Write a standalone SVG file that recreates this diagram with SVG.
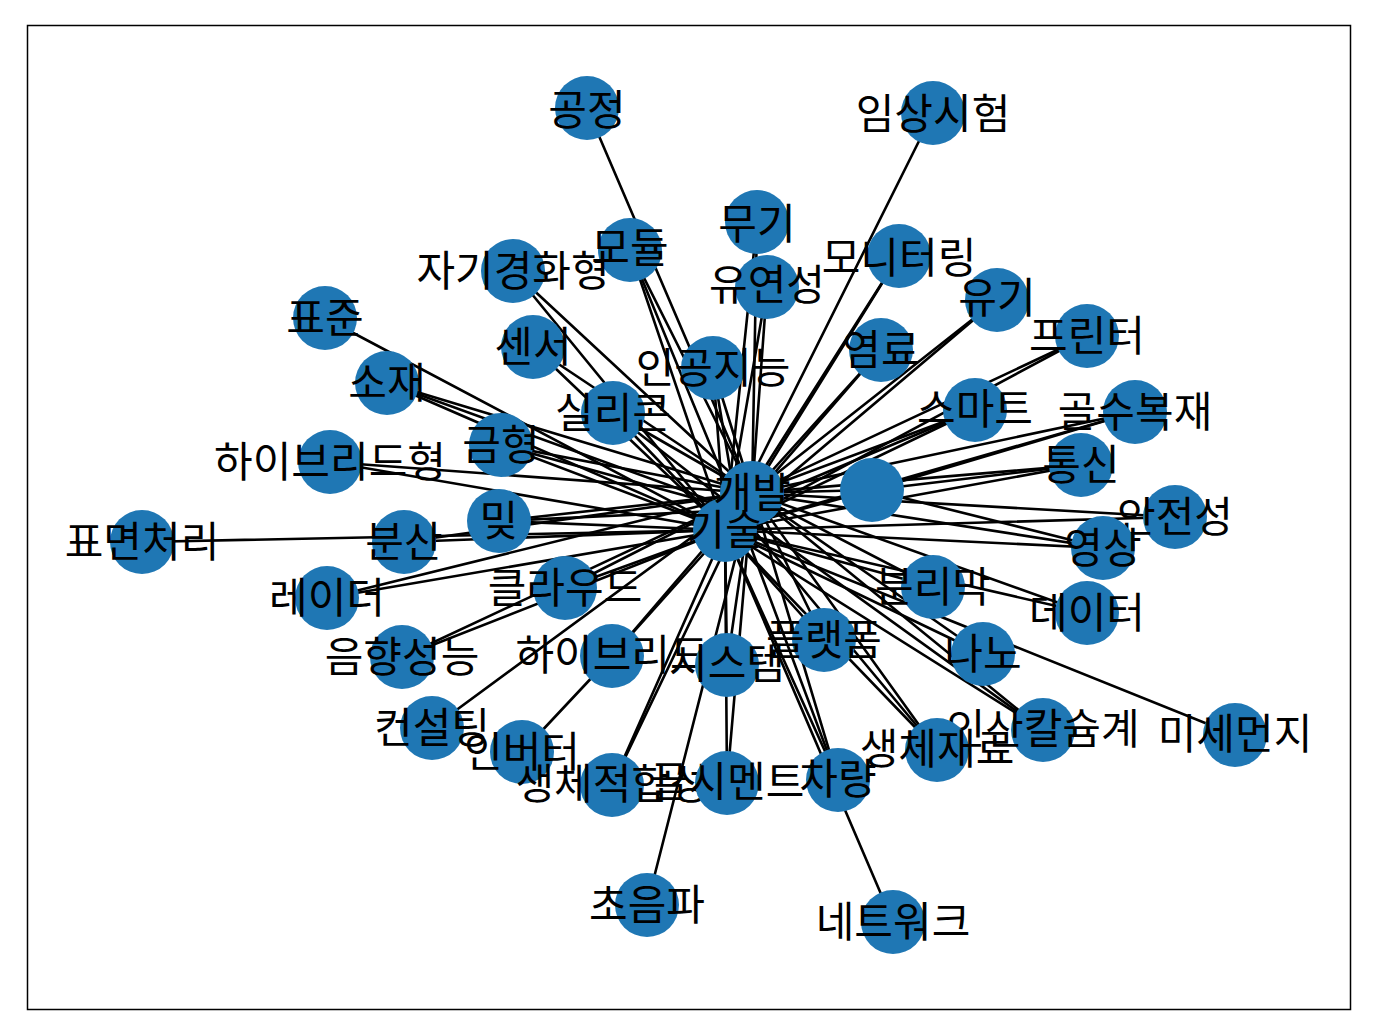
<svg xmlns="http://www.w3.org/2000/svg" width="1374" height="1036" viewBox="0 0 1374 1036">
<style>
.e line{stroke:#000;stroke-width:2.6;stroke-linecap:round}
.n circle{fill:#1f77b4}
.n text{font-family:"Noto Sans CJK KR","Noto Sans",sans-serif;font-size:42px;fill:#000;text-anchor:middle;dominant-baseline:central}
</style>
<rect x="0" y="0" width="1374" height="1036" fill="#fff"/>
<rect x="27.5" y="25.5" width="1323" height="984" fill="none" stroke="#000" stroke-width="1.5"/>
<g id="connectors" class="e">
<line x1="587" y1="108" x2="752" y2="493"/>
<line x1="933" y1="113" x2="725" y2="530"/>
<line x1="757" y1="222" x2="752" y2="493"/>
<line x1="757" y1="222" x2="725" y2="530"/>
<line x1="767" y1="287" x2="752" y2="493"/>
<line x1="767" y1="287" x2="725" y2="530"/>
<line x1="899" y1="256" x2="752" y2="493"/>
<line x1="899" y1="256" x2="725" y2="530"/>
<line x1="997" y1="300" x2="752" y2="493"/>
<line x1="997" y1="300" x2="725" y2="530"/>
<line x1="881" y1="350" x2="752" y2="493"/>
<line x1="881" y1="350" x2="725" y2="530"/>
<line x1="1087" y1="336" x2="752" y2="493"/>
<line x1="1087" y1="336" x2="725" y2="530"/>
<line x1="975" y1="410" x2="752" y2="493"/>
<line x1="975" y1="410" x2="725" y2="530"/>
<line x1="975" y1="410" x2="737" y2="510"/>
<line x1="1135" y1="412" x2="752" y2="493"/>
<line x1="1135" y1="412" x2="725" y2="530"/>
<line x1="1135" y1="412" x2="872" y2="490"/>
<line x1="1081" y1="465" x2="752" y2="493"/>
<line x1="1081" y1="465" x2="725" y2="530"/>
<line x1="1081" y1="465" x2="872" y2="490"/>
<line x1="1175" y1="517" x2="752" y2="493"/>
<line x1="1175" y1="517" x2="725" y2="530"/>
<line x1="1103" y1="548" x2="752" y2="493"/>
<line x1="1103" y1="548" x2="725" y2="530"/>
<line x1="1103" y1="548" x2="872" y2="490"/>
<line x1="1087" y1="613" x2="752" y2="493"/>
<line x1="1087" y1="613" x2="725" y2="530"/>
<line x1="933" y1="587" x2="752" y2="493"/>
<line x1="933" y1="587" x2="725" y2="530"/>
<line x1="983" y1="654" x2="752" y2="493"/>
<line x1="983" y1="654" x2="725" y2="530"/>
<line x1="1043" y1="730" x2="752" y2="493"/>
<line x1="1043" y1="730" x2="725" y2="530"/>
<line x1="1043" y1="730" x2="737" y2="510"/>
<line x1="1235" y1="735" x2="725" y2="530"/>
<line x1="937" y1="750" x2="752" y2="493"/>
<line x1="937" y1="750" x2="725" y2="530"/>
<line x1="937" y1="750" x2="737" y2="510"/>
<line x1="893" y1="922" x2="725" y2="530"/>
<line x1="838" y1="780" x2="752" y2="493"/>
<line x1="838" y1="780" x2="725" y2="530"/>
<line x1="838" y1="780" x2="737" y2="510"/>
<line x1="727" y1="783" x2="752" y2="493"/>
<line x1="727" y1="783" x2="725" y2="530"/>
<line x1="647" y1="905" x2="752" y2="493"/>
<line x1="612" y1="785" x2="752" y2="493"/>
<line x1="612" y1="785" x2="725" y2="530"/>
<line x1="522" y1="752" x2="612" y2="656"/>
<line x1="432" y1="728" x2="752" y2="493"/>
<line x1="402" y1="657" x2="752" y2="493"/>
<line x1="402" y1="657" x2="725" y2="530"/>
<line x1="612" y1="656" x2="752" y2="493"/>
<line x1="612" y1="656" x2="725" y2="530"/>
<line x1="727" y1="665" x2="752" y2="493"/>
<line x1="727" y1="665" x2="725" y2="530"/>
<line x1="824" y1="640" x2="752" y2="493"/>
<line x1="824" y1="640" x2="725" y2="530"/>
<line x1="565" y1="588" x2="752" y2="493"/>
<line x1="565" y1="588" x2="725" y2="530"/>
<line x1="327" y1="598" x2="752" y2="493"/>
<line x1="327" y1="598" x2="725" y2="530"/>
<line x1="404" y1="542" x2="752" y2="493"/>
<line x1="404" y1="542" x2="725" y2="530"/>
<line x1="142" y1="542" x2="725" y2="530"/>
<line x1="330" y1="462" x2="752" y2="493"/>
<line x1="330" y1="462" x2="725" y2="530"/>
<line x1="501" y1="445" x2="752" y2="493"/>
<line x1="501" y1="445" x2="725" y2="530"/>
<line x1="501" y1="445" x2="737" y2="510"/>
<line x1="387" y1="383" x2="752" y2="493"/>
<line x1="387" y1="383" x2="725" y2="530"/>
<line x1="387" y1="383" x2="737" y2="510"/>
<line x1="325" y1="318" x2="725" y2="530"/>
<line x1="533" y1="347" x2="752" y2="493"/>
<line x1="533" y1="347" x2="725" y2="530"/>
<line x1="613" y1="413" x2="752" y2="493"/>
<line x1="613" y1="413" x2="725" y2="530"/>
<line x1="613" y1="413" x2="737" y2="510"/>
<line x1="713" y1="368" x2="752" y2="493"/>
<line x1="713" y1="368" x2="725" y2="530"/>
<line x1="713" y1="368" x2="737" y2="510"/>
<line x1="513" y1="271" x2="752" y2="493"/>
<line x1="513" y1="271" x2="725" y2="530"/>
<line x1="630" y1="250" x2="752" y2="493"/>
<line x1="630" y1="250" x2="725" y2="530"/>
<line x1="630" y1="250" x2="737" y2="510"/>
<line x1="499" y1="521" x2="752" y2="493"/>
<line x1="499" y1="521" x2="725" y2="530"/>
<line x1="499" y1="521" x2="737" y2="510"/>
<line x1="752" y1="493" x2="725" y2="530"/>
<line x1="752" y1="493" x2="872" y2="490"/>
<line x1="725" y1="530" x2="872" y2="490"/>
</g>
<g id="node-blank" class="n"><circle cx="872" cy="490" r="32"/></g>
<g id="node-gongjeong" class="n"><circle cx="587" cy="108" r="32"/><text x="587" y="106">공정</text></g>
<g id="node-imsang" class="n"><circle cx="933" cy="113" r="32"/><text x="933" y="110">임상시험</text></g>
<g id="node-mugi" class="n"><circle cx="757" cy="222" r="32"/><text x="757" y="220">무기</text></g>
<g id="node-modul" class="n"><circle cx="630" cy="250" r="32"/><text x="630" y="244">모듈</text></g>
<g id="node-monitoring" class="n"><circle cx="899" cy="256" r="32"/><text x="899" y="254">모니터링</text></g>
<g id="node-jagi" class="n"><circle cx="513" cy="271" r="32"/><text x="513" y="267">자기경화형</text></g>
<g id="node-yuyeon" class="n"><circle cx="767" cy="287" r="32"/><text x="767" y="281">유연성</text></g>
<g id="node-yugi" class="n"><circle cx="997" cy="300" r="32"/><text x="997" y="294">유기</text></g>
<g id="node-pyojun" class="n"><circle cx="325" cy="318" r="32"/><text x="325" y="314">표준</text></g>
<g id="node-printer" class="n"><circle cx="1087" cy="336" r="32"/><text x="1087" y="332">프린터</text></g>
<g id="node-sensor" class="n"><circle cx="533" cy="347" r="32"/><text x="533" y="343">센서</text></g>
<g id="node-yeomryo" class="n"><circle cx="881" cy="350" r="32"/><text x="881" y="346">염료</text></g>
<g id="node-ai" class="n"><circle cx="713" cy="368" r="32"/><text x="713" y="364">인공지능</text></g>
<g id="node-sojae" class="n"><circle cx="387" cy="383" r="32"/><text x="387" y="379">소재</text></g>
<g id="node-smart" class="n"><circle cx="975" cy="410" r="32"/><text x="975" y="405">스마트</text></g>
<g id="node-golsu" class="n"><circle cx="1135" cy="412" r="32"/><text x="1135" y="408">골수복재</text></g>
<g id="node-silicon" class="n"><circle cx="613" cy="413" r="32"/><text x="613" y="409">실리콘</text></g>
<g id="node-geumhyeong" class="n"><circle cx="501" cy="445" r="32"/><text x="501" y="441">금형</text></g>
<g id="node-hybridhyeong" class="n"><circle cx="330" cy="462" r="32"/><text x="330" y="458">하이브리드형</text></g>
<g id="node-tongsin" class="n"><circle cx="1081" cy="465" r="32"/><text x="1081" y="461">통신</text></g>
<g id="node-anjeon" class="n"><circle cx="1175" cy="517" r="32"/><text x="1175" y="513">안전성</text></g>
<g id="node-mit" class="n"><circle cx="499" cy="521" r="32"/><text x="499" y="517">밎</text></g>
<g id="node-bunsan" class="n"><circle cx="404" cy="542" r="32"/><text x="404" y="538">분산</text></g>
<g id="node-pyomyeon" class="n"><circle cx="142" cy="542" r="32"/><text x="142" y="538">표면처리</text></g>
<g id="node-yeongsang" class="n"><circle cx="1103" cy="548" r="32"/><text x="1103" y="544">영상</text></g>
<g id="node-cloud" class="n"><circle cx="565" cy="588" r="32"/><text x="565" y="584">클라우드</text></g>
<g id="node-bunrimak" class="n"><circle cx="933" cy="587" r="32"/><text x="933" y="583">분리막</text></g>
<g id="node-radar" class="n"><circle cx="327" cy="598" r="32"/><text x="327" y="594">레이더</text></g>
<g id="node-data" class="n"><circle cx="1087" cy="613" r="32"/><text x="1087" y="609">데이터</text></g>
<g id="node-platform" class="n"><circle cx="824" cy="640" r="32"/><text x="824" y="636">플랫폼</text></g>
<g id="node-eumhyang" class="n"><circle cx="402" cy="657" r="32"/><text x="402" y="653">음향성능</text></g>
<g id="node-hybrid" class="n"><circle cx="612" cy="656" r="32"/><text x="612" y="651">하이브리드</text></g>
<g id="node-system" class="n"><circle cx="727" cy="665" r="32"/><text x="727" y="660">시스템</text></g>
<g id="node-nano" class="n"><circle cx="983" cy="654" r="32"/><text x="983" y="650">나노</text></g>
<g id="node-consulting" class="n"><circle cx="432" cy="728" r="32"/><text x="432" y="724">컨설팅</text></g>
<g id="node-insan" class="n"><circle cx="1043" cy="730" r="32"/><text x="1043" y="725">인산칼슘계</text></g>
<g id="node-misemeonji" class="n"><circle cx="1235" cy="735" r="32"/><text x="1235" y="730">미세먼지</text></g>
<g id="node-inverter" class="n"><circle cx="522" cy="752" r="32"/><text x="522" y="748">인버터</text></g>
<g id="node-saengchejaeryo" class="n"><circle cx="937" cy="750" r="32"/><text x="937" y="745">생체재료</text></g>
<g id="node-saengchejeokhap" class="n"><circle cx="612" cy="785" r="32"/><text x="612" y="780">생체적합성</text></g>
<g id="node-golcement" class="n"><circle cx="727" cy="783" r="32"/><text x="727" y="778">골시멘트</text></g>
<g id="node-charyang" class="n"><circle cx="838" cy="780" r="32"/><text x="838" y="775">차량</text></g>
<g id="node-choeumpa" class="n"><circle cx="647" cy="905" r="32"/><text x="647" y="901">초음파</text></g>
<g id="node-network" class="n"><circle cx="893" cy="922" r="32"/><text x="893" y="918">네트워크</text></g>
<g id="node-gaebal" class="n"><circle cx="752" cy="493" r="32"/></g>
<g id="node-gisul" class="n"><circle cx="725" cy="530" r="32"/></g>
<g id="labels-center" class="n"><text x="752" y="489">개발</text><text x="725" y="526">기술</text></g>
</svg>
